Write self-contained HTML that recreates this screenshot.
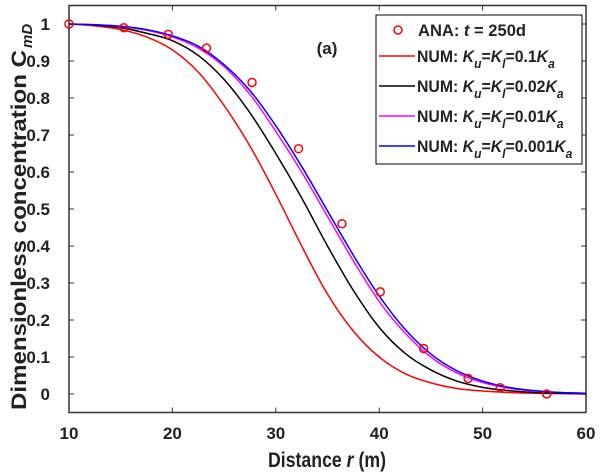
<!DOCTYPE html>
<html><head><meta charset="utf-8"><style>
body{margin:0;background:#fff}
svg text{font-family:"Liberation Sans Narrow","Liberation Sans",sans-serif;font-weight:bold;fill:#222}
</style></head><body>
<svg id="chart" width="600" height="475" xmlns="http://www.w3.org/2000/svg" style="position:absolute;left:0;top:0">
<g id="plot"></g>
</svg>
<script>
const xs=[10,12.5,15,17.5,20,22.5,25,27.5,30,32.5,35,37.5,40,42.5,45,47.5,50,52.5,55,57.5,60];
const red=[1,0.995,0.985,0.965,0.93,0.87,0.78,0.67,0.54,0.40,0.27,0.17,0.10,0.055,0.03,0.015,0.008,0.004,0.002,0.001,0];
const black=[1,0.997,0.99,0.975,0.955,0.915,0.85,0.76,0.65,0.53,0.40,0.28,0.18,0.11,0.065,0.035,0.018,0.009,0.004,0.002,0.001];
const magenta=[1,0.998,0.993,0.983,0.965,0.935,0.885,0.81,0.71,0.60,0.48,0.36,0.25,0.165,0.10,0.057,0.031,0.016,0.008,0.004,0.002];
const blue=[1,0.998,0.994,0.985,0.968,0.94,0.89,0.82,0.725,0.615,0.495,0.375,0.265,0.175,0.108,0.063,0.035,0.018,0.009,0.004,0.002];
const anaX=[10,15.3,19.6,23.3,27.7,32.2,36.4,40.1,44.3,48.6,51.7,56.2];
const anaY=[1.0,0.99,0.972,0.935,0.842,0.663,0.46,0.276,0.123,0.042,0.017,0.0];
const xTicks=[10,20,30,40,50,60];
const yTicks=[0,0.1,0.2,0.3,0.4,0.5,0.6,0.7,0.8,0.9,1];
const yTickLabels=["0","0.1","0.2","0.3","0.4","0.5","0.6","0.7","0.8","0.9","1"];

const L=69,R=586,T=5.5,B=412.5;
const sx=v=>L+(v-10)/50*(R-L);
const sy=v=>T+(1.05-v)/1.1*(B-T);
const NS="http://www.w3.org/2000/svg";
const g=document.getElementById('plot');
function mk(tag,attrs,parent){const e=document.createElementNS(NS,tag);for(const k in attrs)e.setAttribute(k,attrs[k]);(parent||g).appendChild(e);return e;}

let ax=mk('rect',{x:L,y:T,width:R-L,height:B-T,fill:'none',stroke:'#333','stroke-width':1.5});



xTicks.forEach(t=>{
  const x=sx(t);
  mk('line',{x1:x,y1:B,x2:x,y2:B-5,stroke:'#333'});
  mk('line',{x1:x,y1:T,x2:x,y2:T+5,stroke:'#333'});
  const tx=mk('text',{x:x,y:439,'text-anchor':'middle','font-size':17});
  tx.textContent=t;
  
  
});
yTicks.forEach((t,i)=>{
  const y=sy(t);
  mk('line',{x1:L,y1:y,x2:L+5,y2:y,stroke:'#333'});
  mk('line',{x1:R,y1:y,x2:R-5,y2:y,stroke:'#333'});
  const tx=mk('text',{x:50,y:y+6,'text-anchor':'end','font-size':17});
  tx.textContent=yTickLabels[i];
  
  
});

function smoothPath(vals){
  const P=xs.map((x,i)=>[sx(x),sy(vals[i])]);
  let d='M'+P[0][0]+','+P[0][1];
  for(let i=0;i<P.length-1;i++){
    const p0=P[Math.max(0,i-1)],p1=P[i],p2=P[i+1],p3=P[Math.min(P.length-1,i+2)];
    const c1=[p1[0]+(p2[0]-p0[0])/6,p1[1]+(p2[1]-p0[1])/6];
    const c2=[p2[0]-(p3[0]-p1[0])/6,p2[1]-(p3[1]-p1[1])/6];
    d+=' C'+c1[0]+','+c1[1]+' '+c2[0]+','+c2[1]+' '+p2[0]+','+p2[1];
  }
  return d;
}
function series(vals,color,name){
  const p=mk('path',{d:smoothPath(vals),fill:'none',stroke:color,'stroke-width':1.5});
  
  
}
series(red,'#f00','num-line-0.1');
series(black,'#000','num-line-0.02');
series(magenta,'#f0f','num-line-0.01');
series(blue,'#00f','num-line-0.001');
anaX.forEach((x,i)=>{
  const c=mk('circle',{cx:sx(x),cy:sy(anaY[i]),r:4,fill:'none',stroke:'#f00','stroke-width':1.5});
  
  
});
</script>
<svg style="position:absolute;left:0;top:0" width="600" height="475" xmlns="http://www.w3.org/2000/svg">
<text x="327" y="54" text-anchor="middle" font-size="17">(a)</text>
<g>
<rect x="376" y="15" width="206" height="149" fill="#fff" stroke="#000" stroke-width="1"/>
<circle cx="398" cy="30" r="4" fill="none" stroke="#f00" stroke-width="1.5"/>
<text x="418" y="36" font-size="17" textLength="108" lengthAdjust="spacingAndGlyphs">ANA: <tspan font-style="italic">t</tspan> = 250d</text>
<line x1="379" y1="56" x2="415" y2="56" stroke="#f00" stroke-width="1.5"/>
<g transform="translate(417,0) scale(0.93,1)">
<text x="0" y="62" font-size="17">NUM: <tspan font-style="italic">K</tspan><tspan font-style="italic" font-size="13" dy="6">u</tspan><tspan dy="-6">=</tspan><tspan font-style="italic">K</tspan><tspan font-style="italic" font-size="13" dy="6">l</tspan><tspan dy="-6">=0.1</tspan><tspan font-style="italic">K</tspan><tspan font-style="italic" font-size="13" dy="6">a</tspan></text>
<text x="0" y="92" font-size="17">NUM: <tspan font-style="italic">K</tspan><tspan font-style="italic" font-size="13" dy="6">u</tspan><tspan dy="-6">=</tspan><tspan font-style="italic">K</tspan><tspan font-style="italic" font-size="13" dy="6">l</tspan><tspan dy="-6">=0.02</tspan><tspan font-style="italic">K</tspan><tspan font-style="italic" font-size="13" dy="6">a</tspan></text>
<text x="0" y="122" font-size="17">NUM: <tspan font-style="italic">K</tspan><tspan font-style="italic" font-size="13" dy="6">u</tspan><tspan dy="-6">=</tspan><tspan font-style="italic">K</tspan><tspan font-style="italic" font-size="13" dy="6">l</tspan><tspan dy="-6">=0.01</tspan><tspan font-style="italic">K</tspan><tspan font-style="italic" font-size="13" dy="6">a</tspan></text>
<text x="0" y="152" font-size="17">NUM: <tspan font-style="italic">K</tspan><tspan font-style="italic" font-size="13" dy="6">u</tspan><tspan dy="-6">=</tspan><tspan font-style="italic">K</tspan><tspan font-style="italic" font-size="13" dy="6">l</tspan><tspan dy="-6">=0.001</tspan><tspan font-style="italic">K</tspan><tspan font-style="italic" font-size="13" dy="6">a</tspan></text>
</g>
<line x1="379" y1="86" x2="415" y2="86" stroke="#000" stroke-width="1.5"/>
<line x1="379" y1="116" x2="415" y2="116" stroke="#f0f" stroke-width="1.5"/>
<line x1="379" y1="146" x2="415" y2="146" stroke="#00f" stroke-width="1.5"/>
</g>
<text x="268" y="467" font-size="21" textLength="118" lengthAdjust="spacingAndGlyphs">Distance <tspan font-style="italic">r</tspan> (m)</text>
<g transform="translate(26,410) rotate(-90)">
<text x="0" y="0" font-size="21" textLength="360" lengthAdjust="spacingAndGlyphs">Dimensionless concentration C</text>
<text x="362" y="6" font-size="15" font-style="italic">mD</text>
</g>
</svg>
</body></html>
